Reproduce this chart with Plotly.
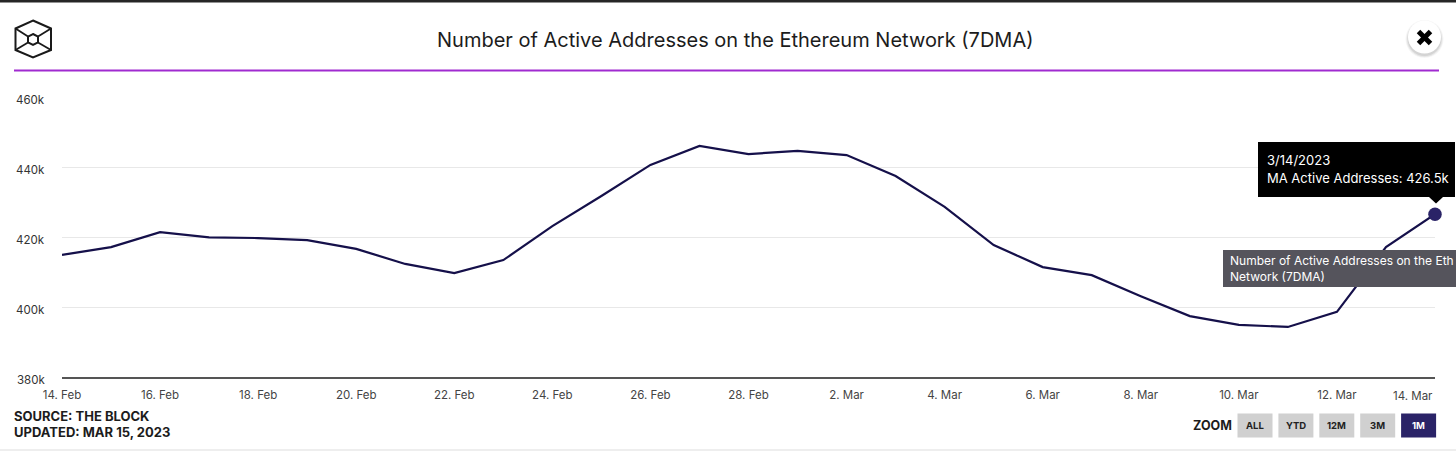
import plotly.graph_objects as go

dates = ["2023-02-14","2023-02-15","2023-02-16","2023-02-17","2023-02-18","2023-02-19","2023-02-20",
         "2023-02-21","2023-02-22","2023-02-23","2023-02-24","2023-02-25","2023-02-26","2023-02-27",
         "2023-02-28","2023-03-01","2023-03-02","2023-03-03","2023-03-04","2023-03-05","2023-03-06",
         "2023-03-07","2023-03-08","2023-03-09","2023-03-10","2023-03-11","2023-03-12","2023-03-13","2023-03-14"]
active_addresses = [414.9,417.1,421.4,419.9,419.7,419.1,416.6,412.3,409.7,413.4,423.1,431.7,440.6,446.0,
                    443.7,444.6,443.4,437.4,428.6,417.7,411.4,409.1,403.1,397.4,394.9,394.3,398.6,417.1,426.5]
y_ticks = [380,400,420,440,460]
y_labels = ["380k","400k","420k","440k","460k"]
x_ticks = dates[0:-1:2]
x_labels = ["14. Feb","16. Feb","18. Feb","20. Feb","22. Feb","24. Feb","26. Feb","28. Feb",
            "2. Mar","4. Mar","6. Mar","8. Mar","10. Mar","12. Mar"]
last_x_label = "14. Mar"
buttons = ["ALL","YTD","12M","3M","1M"]

W, H = 1456, 455
L, R, T, B = 62, 21, 97, 78
PW, PH = W-L-R, H-T-B
FONT = "Inter"
def xp(x): return (x-L)/PW
def yp(y): return (H-B-y)/PH

shapes = []
def rect(x0,y0,x1,y1,fill,layer="above"):
    shapes.append(dict(type="rect",xref="paper",yref="paper",x0=xp(x0),x1=xp(x1),y0=yp(y0),y1=yp(y1),
                       fillcolor=fill,line_width=0,layer=layer))
def line(x0,y0,x1,y1,color,width):
    shapes.append(dict(type="line",xref="paper",yref="paper",x0=xp(x0),x1=xp(x1),y0=yp(y0),y1=yp(y1),
                       line=dict(color=color,width=width),layer="above"))
def circle(cx,cy,r,fill,op=1):
    shapes.append(dict(type="circle",xref="paper",yref="paper",x0=xp(cx-r),x1=xp(cx+r),y0=yp(cy-r),y1=yp(cy+r),
                       fillcolor=fill,opacity=op,line_width=0,layer="above"))
def poly(pts,fill=None,color="#1a1a1a",width=2):
    d = "M"+" L".join(f"{xp(a)},{yp(b)}" for a,b in pts)+" Z"
    s = dict(type="path",xref="paper",yref="paper",path=d,layer="above")
    if fill: s.update(fillcolor=fill,line_width=0)
    else: s.update(line=dict(color=color,width=width))
    shapes.append(s)

anns = []
def text(x,y,s,size=12,color="#222",anchor="left",bold=False):
    if bold: s = f"<b>{s}</b>"
    anns.append(dict(xref="paper",yref="paper",x=xp(x),y=yp(y),text=s,showarrow=False,xanchor=anchor,yanchor="middle",
                     align=anchor,font=dict(family=FONT,size=size,color=color),borderpad=0,borderwidth=0))

# page furniture
rect(0,0,W,2.5,"#262626")
rect(0,449,W,451,"#eeeeee")
line(14,70.5,1439,70.5,"#a02bd0",1.8)

# logo
hex_out = [(33,20.5),(51,28.5),(51,50),(33,57.5),(15.5,50),(15.5,28.5)]
hex_in = [(33,34),(38,36.5),(38,42.5),(33,45),(28,42.5),(28,36.5)]
poly(hex_out); poly(hex_in)
for a,b in zip([hex_out[1],hex_out[2],hex_out[4],hex_out[5]],[hex_in[1],hex_in[2],hex_in[4],hex_in[5]]):
    line(a[0],a[1],b[0],b[1],"#1a1a1a",1.8)

# close button
for r_,o in ((19,0.04),(18,0.06),(17,0.08)):
    circle(1424.5,39,r_,"#000000",o)
circle(1424.5,37,16.5,"#ffffff")
line(1418.5,31.5,1430.5,43.5,"#000000",5)
line(1430.5,31.5,1418.5,43.5,"#000000",5)

# tooltips
rect(1223,250,1456,287,"#55545c")
rect(1258,142,1455,197,"#000000")
poly([(1429,197),(1443,197),(1436,203.5)],fill="#000000")

text(735.5,40,"Number of Active Addresses on the Ethereum Network (7DMA)",size=20,color="#1c1c1c",anchor="center")
text(1267,159.5,"3/14/2023",size=13,color="#ffffff")
text(1267,178,"MA Active Addresses: 426.5k",size=13,color="#ffffff")
text(1230,260.5,"Number of Active Addresses on the Eth",size=12,color="#ffffff")
text(1230,276,"Network (7DMA)",size=12,color="#ffffff")
text(14,416,"SOURCE: THE BLOCK",size=13,color="#1c1c1c",bold=True)
text(14,431.5,"UPDATED: MAR 15, 2023",size=13,color="#1c1c1c",bold=True)
text(1193,425.5,"ZOOM",size=12.5,color="#1c1c1c",bold=True)

for i,b in enumerate(buttons):
    x0 = 1237.5+i*40.9
    active = b=="1M"
    rect(x0,413.5,x0+35,437.5,"#2a2367" if active else "#d0d0d0")
    text(x0+17.5,425.5,b,size=9.5,color="#ffffff" if active else "#222222",anchor="center",bold=True)

# last x label sits flush with the plot edge
anns.append(dict(xref="x",yref="paper",x=dates[-1],y=yp(396),text=last_x_label,showarrow=False,xanchor="right",yanchor="middle",
                 font=dict(family=FONT,size=11.5,color="#444444")))
# y labels sit a little below their gridlines
for v,lab in zip(y_ticks,y_labels):
    anns.append(dict(xref="paper",yref="y",x=xp(47),y=v,yshift=-3,text=lab,showarrow=False,xanchor="right",yanchor="middle",
                     font=dict(family=FONT,size=11.5,color="#333333")))

fig = go.Figure()
fig.add_trace(go.Scatter(x=dates,y=active_addresses,mode="lines",line=dict(color="#15104a",width=2.2),
                         showlegend=False,cliponaxis=False))
fig.add_trace(go.Scatter(x=dates[-1:],y=active_addresses[-1:],mode="markers",marker=dict(color="#2a2367",size=13.5),
                         showlegend=False,cliponaxis=False))
fig.update_layout(width=W,height=H,autosize=False,margin=dict(l=L,r=R,t=T,b=B,pad=0),
                  paper_bgcolor="#ffffff",plot_bgcolor="#ffffff",showlegend=False,
                  font=dict(family=FONT,size=11.5,color="#444444"),shapes=shapes,annotations=anns,
                  xaxis=dict(type="date",range=[dates[0],dates[-1]],tickmode="array",tickvals=x_ticks,ticktext=x_labels,
                             showgrid=False,zeroline=False,showline=True,linecolor="#555555",linewidth=2,
                             ticks="",ticklabelstandoff=6,tickangle=0,tickfont=dict(family=FONT,size=11.5,color="#444444")),
                  yaxis=dict(range=[380,460],tickmode="array",tickvals=y_ticks,showticklabels=False,
                             showgrid=True,gridcolor="#e8e8e8",gridwidth=1,zeroline=False,showline=False,ticks=""))
fig.write_html("out.html",config=dict(displayModeBar=False),
               post_script="document.body.style.margin='0';document.body.style.overflow='hidden';")
